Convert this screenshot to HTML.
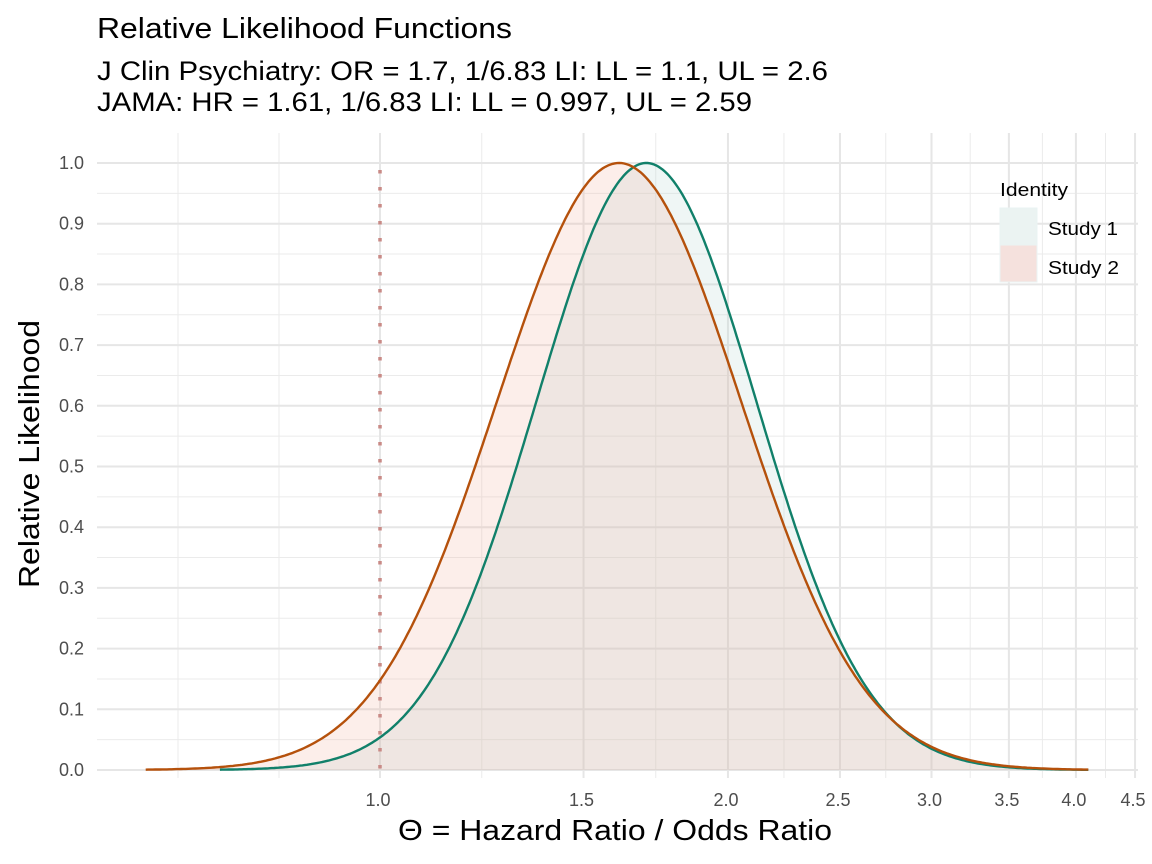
<!DOCTYPE html>
<html><head><meta charset="utf-8"><style>
body{margin:0;background:#fff;}
svg{display:block;font-family:"Liberation Sans",sans-serif;}
</style></head><body>
<svg id="chart" width="1152" height="864">
<text x="97" y="38" font-size="28.5" textLength="415" lengthAdjust="spacingAndGlyphs" fill="#000">Relative Likelihood Functions</text>
<text x="97" y="80" font-size="26.5" textLength="731" lengthAdjust="spacingAndGlyphs" fill="#000">J Clin Psychiatry: OR = 1.7, 1/6.83 LI: LL = 1.1, UL = 2.6</text>
<text x="97" y="111" font-size="26.5" textLength="655" lengthAdjust="spacingAndGlyphs" fill="#000">JAMA: HR = 1.61, 1/6.83 LI: LL = 0.997, UL = 2.59</text>
<g id="grid"></g>
<g id="areas"></g>
<line id="refline" stroke="#c98a86" stroke-width="3.5" stroke-dasharray="3.5,13.5"/>
<g id="lines"></g>
<g id="yticks"></g>
<g id="xticks"></g>
<text x="0" y="0" transform="translate(39,454) rotate(-90)" text-anchor="middle" font-size="28.5" textLength="268" lengthAdjust="spacingAndGlyphs">Relative Likelihood</text>
<text x="615" y="840" text-anchor="middle" font-size="28.5" textLength="434" lengthAdjust="spacingAndGlyphs">Θ = Hazard Ratio / Odds Ratio</text>
<g>
<text x="1000" y="196" font-size="18.5" textLength="68" lengthAdjust="spacingAndGlyphs">Identity</text>
<rect x="1000" y="208" width="37" height="37" fill="#ebf3f2" stroke="#eaf3f3"/>
<rect x="1000" y="245" width="37" height="37" fill="#f5e1dd" stroke="#eaf3f3"/>
<text x="1048" y="235" font-size="18.5" textLength="70" lengthAdjust="spacingAndGlyphs">Study 1</text>
<text x="1048" y="274" font-size="18.5" textLength="71" lengthAdjust="spacingAndGlyphs">Study 2</text>
</g>
</svg>
<script>
const studies = ["Study 1","Study 2"];
const estimates = [1.7, 1.61];
const lowerLimits = [1.1, 0.997];
const upperLimits = [2.6, 2.59];
const xRangeLo = [0.727, 0.627];
const xRangeHi = [4.1, 4.1];
const xTicks = [1.0,1.5,2.0,2.5,3.0,3.5,4.0,4.5];
const xTickLabels = ["1.0","1.5","2.0","2.5","3.0","3.5","4.0","4.5"];
const yTicks = [0,0.1,0.2,0.3,0.4,0.5,0.6,0.7,0.8,0.9,1.0];
const yTickLabels = ["0.0","0.1","0.2","0.3","0.4","0.5","0.6","0.7","0.8","0.9","1.0"];
const liRatio = 6.83;

const NS="http://www.w3.org/2000/svg";
const X = v => 380 + 502*Math.log(v);
const Y = v => 770 - 607*v;
const PL=97, PR=1138, PT=133, PB=778;
function mk(tag, attrs, parent){const e=document.createElementNS(NS,tag);for(const k in attrs)e.setAttribute(k,attrs[k]);parent.appendChild(e);return e;}
const grid=document.getElementById('grid');
for(let i=0;i<yTicks.length-1;i++){
  const yy=Y((yTicks[i]+yTicks[i+1])/2);
  const l=mk('line',{x1:PL,x2:PR,y1:yy,y2:yy,stroke:'#ebebeb','stroke-width':1},grid);
  
  
}
const minorX=[178,279];
for(let i=0;i<xTicks.length-1;i++) minorX.push((X(xTicks[i])+X(xTicks[i+1]))/2);
minorX.forEach(px=>{
  const l=mk('line',{x1:px,x2:px,y1:PT,y2:PB,stroke:'#ebebeb','stroke-width':1},grid);
  
  
});
yTicks.forEach(v=>{
  const l=mk('line',{x1:PL,x2:PR,y1:Y(v),y2:Y(v),stroke:'#e6e6e6','stroke-width':2},grid);
  
  
});
xTicks.forEach(v=>{
  const l=mk('line',{x1:X(v),x2:X(v),y1:PT,y2:PB,stroke:'#e6e6e6','stroke-width':2},grid);
  
  
});
const z=Math.sqrt(2*Math.log(liRatio));
const fills=['rgba(180,215,208,0.22)','rgba(240,170,150,0.2)'];
const strokes=['#11806a','#b5510c'];
const areas=document.getElementById('areas'), lines=document.getElementById('lines');
for(let i=0;i<studies.length;i++){
  const mu=Math.log(estimates[i]);
  const se=(Math.log(upperLimits[i])-Math.log(lowerLimits[i]))/(2*z);
  const pts=[];
  const a=Math.log(xRangeLo[i]), b=Math.log(xRangeHi[i]);
  for(let k=0;k<=400;k++){const lx=a+(b-a)*k/400;const L=Math.exp(-Math.pow(lx-mu,2)/(2*se*se));pts.push([X(Math.exp(lx)),Y(L)]);}
  const d='M'+pts.map(p=>p[0].toFixed(1)+','+p[1].toFixed(1)).join('L');
  const ar=mk('path',{d:d+`L${X(xRangeHi[i])},${Y(0)}L${X(xRangeLo[i])},${Y(0)}Z`,fill:fills[i]},areas);
  
  
  const ln=mk('path',{d:d,fill:'none',stroke:strokes[i],'stroke-width':2.4},lines);
  
  
}
const rl=document.getElementById('refline');
rl.setAttribute('x1',X(1));rl.setAttribute('x2',X(1));rl.setAttribute('y1',Y(1)+7);rl.setAttribute('y2',Y(0));
const yt=document.getElementById('yticks');
yTicks.forEach((v,i)=>{
  const t=mk('text',{x:84,y:Y(v)+6,'text-anchor':'end','font-size':18,fill:'#4d4d4d'},yt);
  t.textContent=yTickLabels[i];
  
  
});
const xt=document.getElementById('xticks');
xTicks.forEach((v,i)=>{
  const t=mk('text',{x:X(v)-2,y:806,'text-anchor':'middle','font-size':18,fill:'#4d4d4d'},xt);
  t.textContent=xTickLabels[i];
  
  
});
</script>
</body></html>
